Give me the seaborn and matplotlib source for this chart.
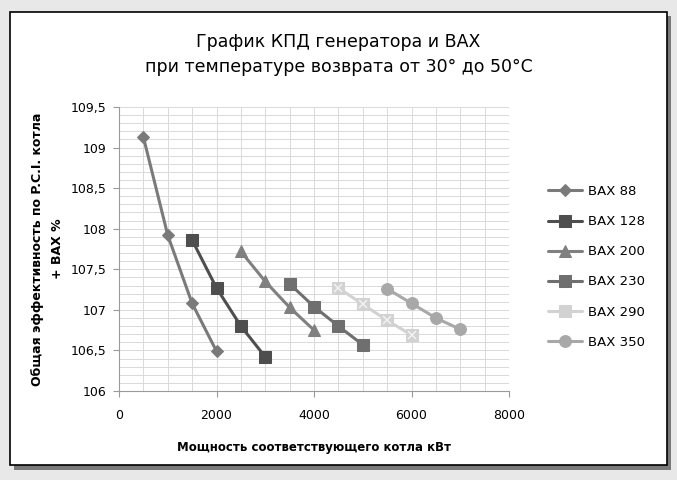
import pandas as pd
import numpy as np
import matplotlib.pyplot as plt
import seaborn as sns
from matplotlib.patches import Rectangle
from matplotlib.ticker import MultipleLocator, FuncFormatter

series = ['BAX 88', 'BAX 128', 'BAX 200', 'BAX 230', 'BAX 290', 'BAX 350']
power = {
    'BAX 88': [500, 1000, 1500, 2000],
    'BAX 128': [1500, 2000, 2500, 3000],
    'BAX 200': [2500, 3000, 3500, 4000],
    'BAX 230': [3500, 4000, 4500, 5000],
    'BAX 290': [4500, 5000, 5500, 6000],
    'BAX 350': [5500, 6000, 6500, 7000],
}
eff = {
    'BAX 88': [109.13, 107.92, 107.08, 106.49],
    'BAX 128': [107.86, 107.27, 106.80, 106.42],
    'BAX 200': [107.72, 107.35, 107.03, 106.75],
    'BAX 230': [107.32, 107.04, 106.80, 106.57],
    'BAX 290': [107.27, 107.07, 106.87, 106.69],
    'BAX 350': [107.26, 107.08, 106.90, 106.76],
}

rows = []
for s in series:
    for x, y in zip(power[s], eff[s]):
        rows.append({'kw': x, 'eff': y, 'model': s})
df = pd.DataFrame(rows)

colors = {'BAX 88': '#7a7a7a', 'BAX 128': '#4e4e4e', 'BAX 200': '#808080',
          'BAX 230': '#6f6f6f', 'BAX 290': '#d2d2d2', 'BAX 350': '#a8a8a8'}
mk = {'BAX 88': 'D', 'BAX 128': 's', 'BAX 200': '^', 'BAX 230': 's',
      'BAX 290': 's', 'BAX 350': 'o'}
msize = {'BAX 88': 6.5, 'BAX 128': 8.5, 'BAX 200': 8.5, 'BAX 230': 8,
         'BAX 290': 8, 'BAX 350': 8.5}

sns.set_style('white')
plt.rcParams['font.family'] = ['DejaVu Sans']
plt.rcParams['text.color'] = 'black'
plt.rcParams['axes.labelcolor'] = 'black'
plt.rcParams['xtick.color'] = 'black'
plt.rcParams['ytick.color'] = 'black'

fig = plt.figure(figsize=(6.77, 4.8), dpi=100)
fig.patch.set_facecolor('#e8e8e8')
# shadow + white frame
fig.patches.append(Rectangle((14 / 677, 1 - 470 / 480), 657 / 677, 454 / 480,
                             transform=fig.transFigure, facecolor='#7a7a7a',
                             edgecolor='none', zorder=0))
fig.patches.append(Rectangle((10 / 677, 1 - 465 / 480), 657 / 677, 453 / 480,
                             transform=fig.transFigure, facecolor='white',
                             edgecolor='black', linewidth=1.2, zorder=1))

ax = fig.add_axes([119 / 677, 1 - 391 / 480, 390 / 677, 284 / 480])
ax.set_zorder(5)
ax.set_facecolor('none')

for s in series:
    d = df[df.model == s]
    sns.lineplot(data=d, x='kw', y='eff', ax=ax, color=colors[s], marker=mk[s],
                 markersize=msize[s], linewidth=2.2, markeredgecolor=colors[s],
                 label=s, zorder=3)
# cross inside BAX 290 markers
d = df[df.model == 'BAX 290']
ax.plot(d.kw, d.eff, linestyle='none', marker='x', markersize=5.5,
        markeredgecolor='#f2f2f2', markeredgewidth=1.1, zorder=4)

ax.set_xlim(0, 8000)
ax.set_ylim(106, 109.5)
ax.xaxis.set_major_locator(MultipleLocator(2000))
ax.xaxis.set_minor_locator(MultipleLocator(500))
ax.yaxis.set_major_locator(MultipleLocator(0.5))
ax.yaxis.set_minor_locator(MultipleLocator(0.1))
ax.yaxis.set_major_formatter(FuncFormatter(lambda v, p: ('%g' % v).replace('.', ',')))
ax.grid(which='both', color='#d9d9d9', linewidth=0.7)
ax.set_axisbelow(True)
for sp in ['top', 'right']:
    ax.spines[sp].set_visible(False)
for sp in ['left', 'bottom']:
    ax.spines[sp].set_color('#9a9a9a')
ax.tick_params(which='major', length=4, color='#9a9a9a', labelsize=9, pad=5,
               left=True, bottom=True)
ax.tick_params(axis='x', pad=9)
ax.tick_params(which='minor', length=0)

ax.set_xlabel('Мощность соответствующего котла кВт', fontsize=8.5,
              fontweight='bold', labelpad=14)
ax.set_ylabel('Общая эффективность по P.C.I. котла\n+ BAX %', fontsize=9,
              fontweight='bold', linespacing=1.7)
ax.yaxis.set_label_coords(-0.14, 0.5)

fig.text(0.5, 1 - 42 / 480, 'График КПД генератора и BAX', ha='center',
         va='center', fontsize=12.5)
fig.text(0.5, 1 - 67 / 480, 'при температуре возврата от 30° до 50°С',
         ha='center', va='center', fontsize=12.5)

leg = ax.legend(loc='center left', bbox_to_anchor=(1.07, 0.437), frameon=False,
                fontsize=9.5, labelspacing=1.3, handlelength=2.6,
                handletextpad=0.4)

fig.savefig('out.png', dpi=100, facecolor=fig.get_facecolor())
